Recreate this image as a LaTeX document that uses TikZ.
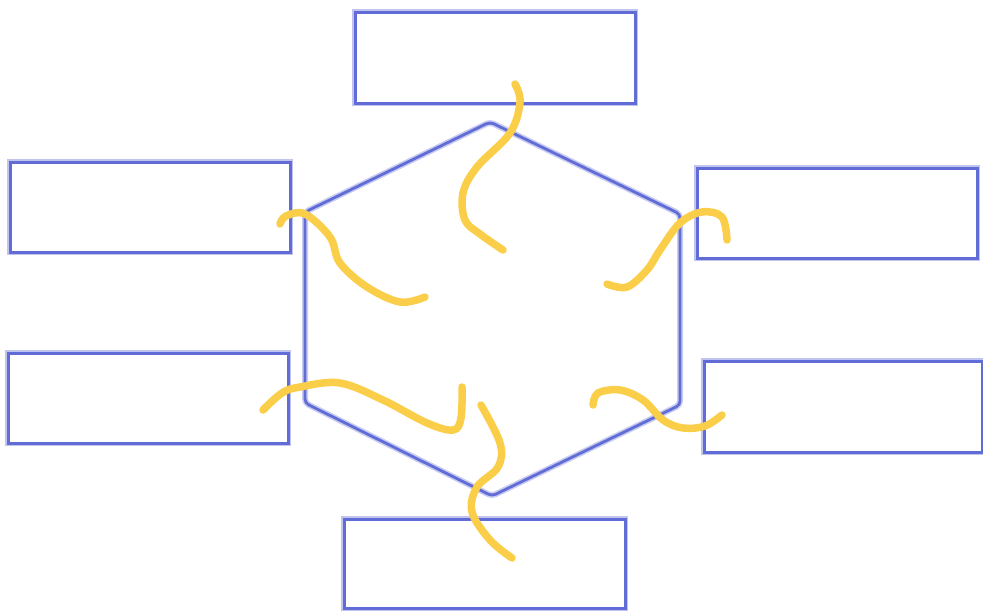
\documentclass[tikz,border=0pt]{standalone}
\usetikzlibrary{calc}
\definecolor{boxblue}{RGB}{98,108,214}
\definecolor{wormy}{RGB}{250,206,72}
\tikzset{
  box/.style={draw=boxblue, line width=3pt, fill=white, rectangle, inner sep=0pt},
  boxglow/.style={draw=boxblue!40, line width=6pt, rectangle, inner sep=0pt},
  hexline/.style={draw=boxblue, line width=2.8pt, line join=round, rounded corners=4pt},
  hexglow/.style={draw=boxblue!35, line width=6pt, line join=round, rounded corners=4pt},
  worm/.style={draw=wormy, line width=7.5pt, line cap=round, line join=round},
}
\begin{document}
\begin{tikzpicture}[x=1pt,y=-1pt]
\useasboundingbox (0,0) rectangle (983,611);
% boxes (glow then crisp)
\foreach \n/\xa/\ya/\xb/\yb in {top/355/12/635/103, lu/10/162/290/252, ll/8/353/288/443, ru/697/168/977/258, rl/704/361/982/452, bot/344/519/625/608}{
  \node[boxglow, minimum width={(\xb-\xa)*1pt}, minimum height={(\yb-\ya)*1pt}] at ({(\xa+\xb)/2},{(\ya+\yb)/2}) {};
  \node[box, minimum width={(\xb-\xa)*1pt}, minimum height={(\yb-\ya)*1pt}] (\n) at ({(\xa+\xb)/2},{(\ya+\yb)/2}) {};
}
% hexagon
\coordinate (h1) at (490,122);
\coordinate (h2) at (680,214);
\coordinate (h3) at (680,405);
\coordinate (h4) at (492,496);
\coordinate (h5) at (305,403);
\coordinate (h6) at (305,212);
\draw[hexglow] (h1)--(h2)--(h3)--(h4)--(h5)--(h6)--cycle;
\draw[hexline] (h1)--(h2)--(h3)--(h4)--(h5)--(h6)--cycle;
% yellow strands
\draw[worm] plot[smooth, tension=0.6] coordinates {(515,84) (520,102) (510,133) (477,167) (463,193) (465,220) (480,234) (503,250)};
\draw[worm] plot[smooth, tension=0.6] coordinates {(280,224) (286,216) (305,214) (330,237) (340,263) (367,287) (400,302) (425,297)};
\draw[worm] plot[smooth, tension=0.6] coordinates {(727,240) (722,217) (702,212) (680,223) (660,250) (647,270) (627,287) (607,284)};
\draw[worm] plot[smooth, tension=0.6] coordinates {(263,410) (282,393) (300,387) (340,383) (383,400) (427,423) (453,430) (461,418) (462,387)};
\draw[worm] plot[smooth, tension=0.6] coordinates {(481,405) (500,443) (498,467) (477,487) (472,512) (490,540) (512,558)};
\draw[worm] plot[smooth, tension=0.6] coordinates {(593,405) (598,393) (620,390) (643,400) (663,420) (683,428) (705,426) (722,415)};
\end{tikzpicture}
\end{document}
